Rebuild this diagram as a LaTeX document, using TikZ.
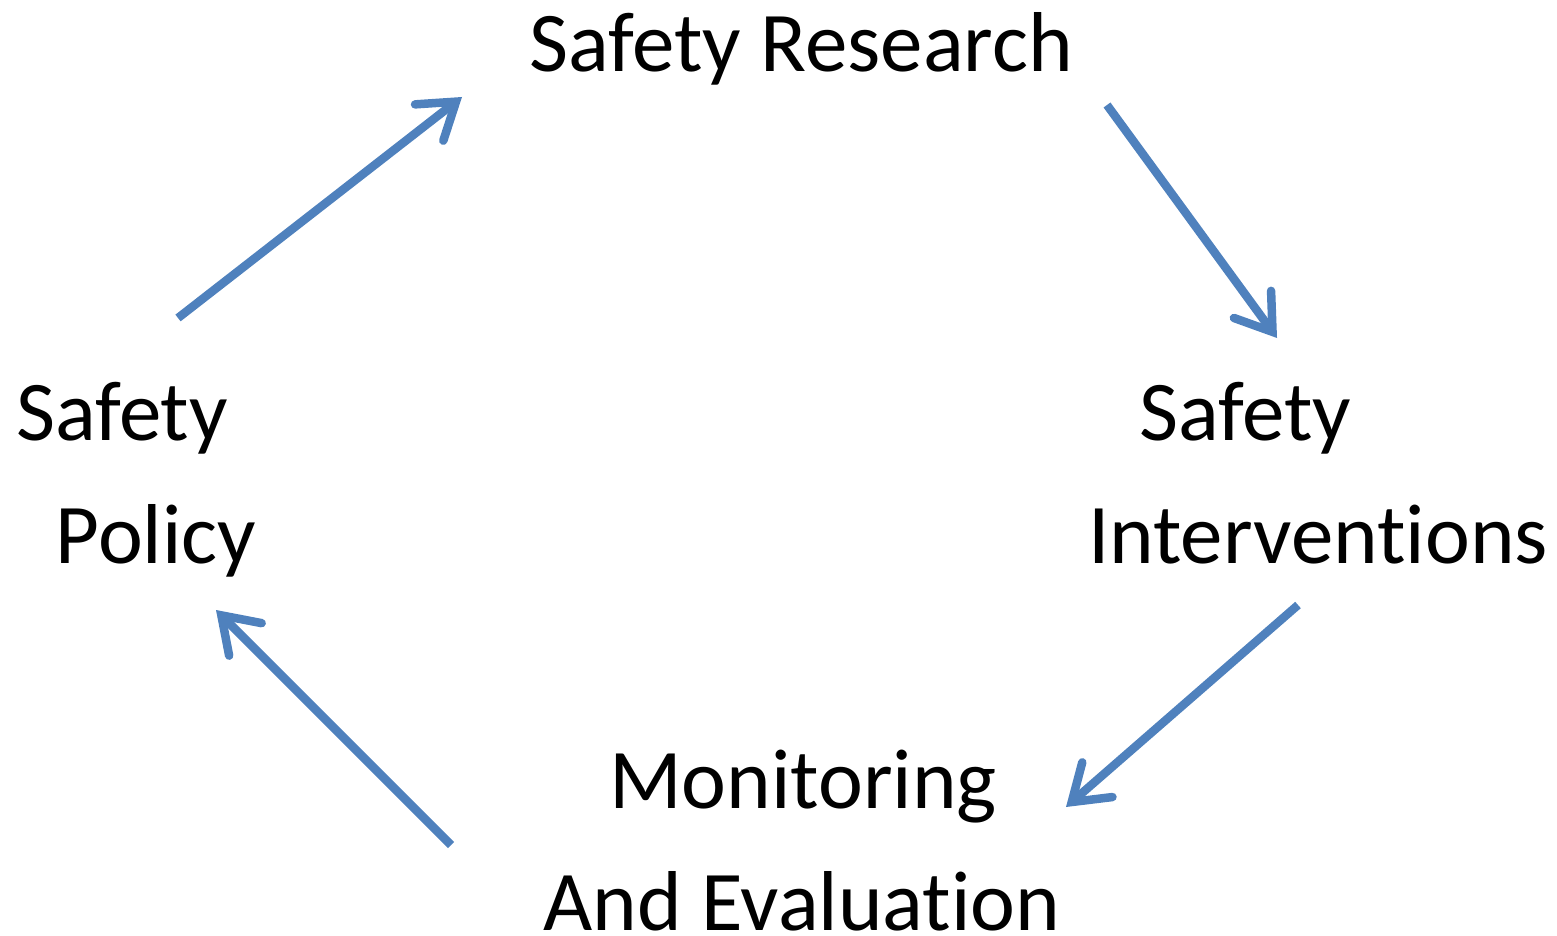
\documentclass[tikz,border=0pt]{standalone}
\usepackage{fontspec}
\setmainfont{Carlito}[Ligatures={NoCommon,NoRare,NoDiscretionary}]
\usetikzlibrary{arrows.meta}
\definecolor{arrowblue}{HTML}{4F81BD}
\tikzset{
  lbl/.style={anchor=base, inner sep=0pt, font=\fontsize{85}{102}\selectfont, text=black},
  flow/.style={draw=arrowblue, line width=8.5pt,
    -{Straight Barb[length=34pt, width=46pt, line cap=round, line join=miter]}}
}
\begin{document}
\begin{tikzpicture}[x=1pt, y=-1pt]
\useasboundingbox (0,0) rectangle (1557,936);
\node[lbl] (research) at (801,72) {Safety Research};
\node[lbl] (policyA) at (122,440) {Safety};
\node[lbl] (policyB) at (156,563) {Policy};
\node[lbl] (intervA) at (1245,440) {Safety};
\node[lbl] (intervB) at (1318,563) {Interventions};
\node[lbl] (monA) at (803,808) {Monitoring};
\node[lbl] (monB) at (802,930) {And Evaluation};
\coordinate (p1) at (178,318);
\coordinate (r1) at (462,97);
\coordinate (r2) at (1107,105);
\coordinate (i1) at (1277,338);
\coordinate (i2) at (1298,605);
\coordinate (m1) at (1066,807);
\coordinate (m2) at (451,845);
\coordinate (p2) at (216,610);
\draw[flow] (p1) -- (r1);
\draw[flow] (r2) -- (i1);
\draw[flow] (i2) -- (m1);
\draw[flow] (m2) -- (p2);
\end{tikzpicture}
\end{document}
